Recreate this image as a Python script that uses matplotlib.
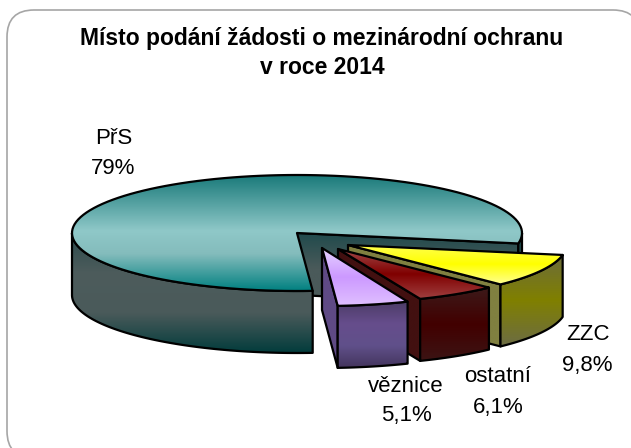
import numpy as np
import matplotlib
matplotlib.use('Agg')
import matplotlib.pyplot as plt
from matplotlib.colors import LinearSegmentedColormap
from matplotlib.patches import Polygon, FancyBboxPatch

# data
names = ['PřS', 'věznice', 'ostatní', 'ZZC']
values = [79.0, 5.1, 6.1, 9.8]
value_labels = ['79%', '5,1%', '6,1%', '9,8%']
title_lines = ['Místo podání žádosti o mezinárodní ochranu', 'v roce 2014']

# pie geometry, in pixels
CX, CY = 297, 233
RX, RY = 225, 58
DEPTH = 62
START = -10.4
OFFSETS = [(0, 0), (25, 15), (41, 16), (51, 12)]
SCALES = [(1, 1), (1, 1), (0.96, 0.93), (0.97, 0.95)]

# colours: top face, outer side, radial side
TOP = [[(0, '#1a7a7a'), (0.48, '#8fc8c8'), (0.68, '#84bcbc'), (1, '#008080')],
       ['#e6d2ff', '#cc99ff', '#e0c0ff'],
       ['#a04848', '#800000', '#a04040'],
       ['#ffff50', '#ffff00', '#ffff90']]
SIDE = [['#2c4a4c', '#4d5c5c', '#4a5a5a', '#023c3c'],
        ['#4c3c66', '#664d8c', '#60508a', '#43345c'],
        ['#3c1a1a', '#420000', '#3c1414'],
        ['#6c6c3c', '#808000', '#6c6c44']]
FACE = ['#1f4a4c', '#5f4a85', '#421010', '#808040']

plt.rcParams['font.family'] = ['Liberation Sans', 'DejaVu Sans']

fig = plt.figure(figsize=(6.31, 4.48), dpi=100)
ax = fig.add_axes([0, 0, 1, 1])


def arc(t1, t2, dx=0, dy=0, sx=1, sy=1):
    t = np.radians(np.linspace(t1, t2, 120))
    return np.column_stack([CX + dx + sx * RX * np.cos(t), CY + dy - sy * RY * np.sin(t)])


def shape(pts, cols, z):
    """ Polygon with a vertical gradient and a black outline """
    pts = np.array(pts)
    poly = Polygon(pts, closed=True, fc='none', ec='black', lw=1.6, joinstyle='round', zorder=z + 0.5)
    ax.add_patch(poly)
    cmap = LinearSegmentedColormap.from_list('g', cols)
    grad = np.linspace(0, 1, 256).reshape(-1, 1)
    im = ax.imshow(grad, cmap=cmap, aspect='auto', zorder=z, interpolation='bilinear',
                   extent=[pts[:, 0].min(), pts[:, 0].max(), pts[:, 1].max(), pts[:, 1].min()])
    im.set_clip_path(poly)


# frame runs off the right and bottom of the picture
frame = FancyBboxPatch((7, 10), 633, 448, boxstyle='round,pad=0,rounding_size=27',
                       fc='white', ec='#a6a6a6', lw=1.2, zorder=1)
ax.add_patch(frame)

sweeps = np.array(values) / sum(values) * 360.0
edges = START + np.concatenate([[0], np.cumsum(sweeps)])

# drawing order: big slice at the back, then from right to left
z = 2
for i in [0, 3, 2, 1]:
    t1, t2 = edges[i], edges[i + 1]
    dx, dy = OFFSETS[i]
    sx, sy = SCALES[i]
    apex = np.array([CX + dx, CY + dy])
    depth = np.array([0, DEPTH])
    if i == 0:
        # radial face on the right edge, seen through the gap
        p = arc(t1, t1)[0]
        shape([apex, p, p + depth, apex + depth], [FACE[0], '#4a5a5a', '#4a5a5a'], z)
        z += 1
        # outer side, front part only
        front = arc(180, t2)
        shape(np.vstack([front, (front + depth)[::-1]]), SIDE[0], z)
        z += 1
        front = arc(t1, 0)
        shape(np.vstack([front, (front + depth)[::-1]]), [FACE[0], FACE[0]], z)
        z += 1
    else:
        p = arc(t1, t1, dx, dy, sx, sy)[0]
        shape([apex, p, p + depth, apex + depth], [FACE[i], FACE[i]], z)
        z += 1
        front = arc(t1, t2, dx, dy, sx, sy)
        shape(np.vstack([front, (front + depth)[::-1]]), SIDE[i], z)
        z += 1
    top = np.vstack([[apex], arc(t1, t2, dx, dy, sx, sy)])
    shape(top, TOP[i], z)
    z += 1

# title
for line, y in zip(title_lines, [38, 68]):
    ax.text(322, y, line, ha='center', va='center', fontsize=16.5, fontweight='bold', color='black', zorder=50)

# slice labels
LABEL_POS = [((114, 138), (113, 169)), ((406, 387), (406, 416)), ((498, 377), (498, 407)), ((588, 335), (587, 365))]
for name, val, pos in zip(names, value_labels, LABEL_POS):
    ax.text(pos[0][0], pos[0][1], name, ha='center', va='center', fontsize=16, color='black', zorder=50)
    ax.text(pos[1][0], pos[1][1], val, ha='center', va='center', fontsize=16, color='black', zorder=50)

ax.set_xlim(0, 631)
ax.set_ylim(448, 0)
ax.axis('off')
fig.savefig('out.png', dpi=100, facecolor='white')
